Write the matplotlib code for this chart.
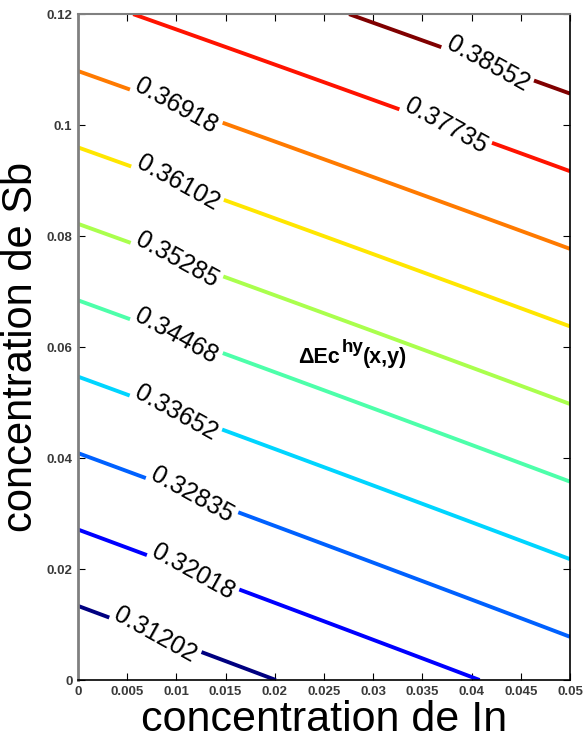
import numpy as np
import matplotlib
matplotlib.use('Agg')
import matplotlib.pyplot as plt

plt.rcParams['font.family'] = ['Liberation Sans', 'DejaVu Sans']

# surface values read at the corners of the domain (x = In, y = Sb)
x_range = [0.0, 0.05]
y_range = [0.0, 0.12]
z_corners = [[0.3041, 0.3238],    # y = 0   : x = 0, x = 0.05
             [0.37526, 0.39388]]  # y = 0.12: x = 0, x = 0.05

levels = [0.31202, 0.32018, 0.32835, 0.33652, 0.34468,
          0.35285, 0.36102, 0.36918, 0.37735, 0.38552]

# where the labels sit on each line
label_pos = [(0.0072, 0.0050), (0.0114, 0.0180), (0.0114, 0.0324),
             (0.0097, 0.0470), (0.0097, 0.0605), (0.0097, 0.0740),
             (0.0097, 0.0875), (0.0095, 0.1010), (0.0373, 0.0995),
             (0.0414, 0.1099)]

xticks = [0, 0.005, 0.01, 0.015, 0.02, 0.025, 0.03, 0.035, 0.04, 0.045, 0.05]
xticklabels = ['0', '0.005', '0.01', '0.015', '0.02', '0.025', '0.03',
               '0.035', '0.04', '0.045', '0.05']
yticks = [0, 0.02, 0.04, 0.06, 0.08, 0.1, 0.12]
yticklabels = ['0', '0.02', '0.04', '0.06', '0.08', '0.1', '0.12']

# bilinear surface on a grid
xs = np.linspace(x_range[0], x_range[1], 101)
ys = np.linspace(y_range[0], y_range[1], 121)
X, Y = np.meshgrid(xs, ys)
z = np.array(z_corners)
tx = (X - x_range[0]) / (x_range[1] - x_range[0])
ty = (Y - y_range[0]) / (y_range[1] - y_range[0])
Z = (z[0, 0] * (1 - tx) * (1 - ty) + z[0, 1] * tx * (1 - ty)
     + z[1, 0] * (1 - tx) * ty + z[1, 1] * tx * ty)

fig = plt.figure(figsize=(5.84, 7.44), dpi=100)
ax = fig.add_axes([0.1336, 0.086, 0.8424, 0.895])

cs = ax.contour(X, Y, Z, levels=levels, cmap='jet', linewidths=2.8)
texts = ax.clabel(cs, levels, inline=True, fontsize=18, fmt='%.5f',
                  manual=label_pos, inline_spacing=4, colors='k')
for t in texts:
    t.set_rotation(-29)

# Delta Ec^hy(x,y) annotation, built from three pieces
t1 = ax.text(0.0224, 0.0571, '\u0394Ec', fontsize=15.5, fontweight='bold',
             va='baseline', ha='left')
t2 = ax.annotate('hy', xy=(1, 0), xycoords=t1, xytext=(1, 9),
                 textcoords='offset points', fontsize=13.5, fontweight='bold',
                 va='bottom', ha='left')
ax.annotate('(x,y)', xy=(1, 0), xycoords=t2, xytext=(0, -9),
            textcoords='offset points', fontsize=15.5, fontweight='bold',
            va='bottom', ha='left')

ax.set_xlim(0, 0.05)
ax.set_ylim(0, 0.12)
ax.set_xticks(xticks)
ax.set_xticklabels(xticklabels)
ax.set_yticks(yticks)
ax.set_yticklabels(yticklabels)
ax.tick_params(direction='in', top=True, right=True, length=5, pad=4,
               labelsize=9.5, labelcolor='#3a3a3a')
for lab in ax.get_xticklabels() + ax.get_yticklabels():
    lab.set_family(['Liberation Sans Narrow', 'Liberation Sans'])
    lab.set_fontweight('bold')

for s in ['right', 'bottom']:
    ax.spines[s].set_linewidth(1.2)
for s in ['left', 'top']:
    ax.spines[s].set_color('#808080')
ax.spines['left'].set_linewidth(2)
ax.spines['top'].set_linewidth(1.5)

ax.set_xlabel('concentration de In', fontsize=31, labelpad=2)
ax.set_ylabel('concentration de Sb', fontsize=30, labelpad=4)

fig.savefig('out.png', dpi=100)
